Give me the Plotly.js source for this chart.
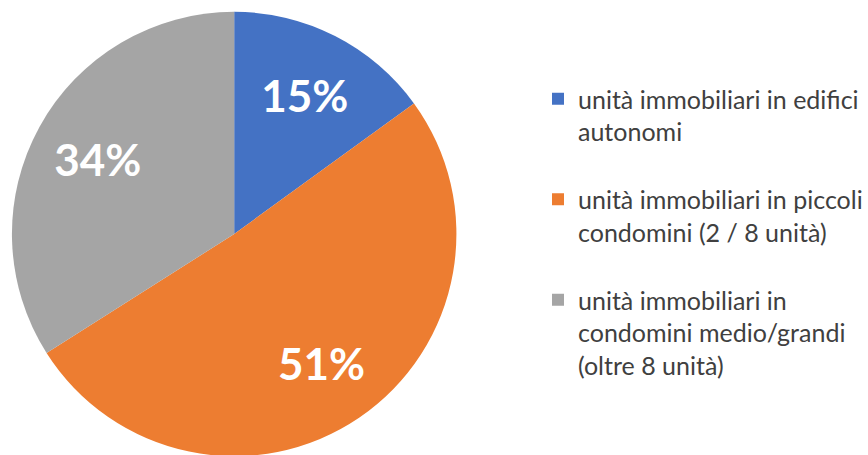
<!DOCTYPE html>
<html>
<head>
<meta charset="utf-8">
<script src="https://cdn.plot.ly/plotly-3.0.1.min.js"></script>
<style>
html,body{margin:0;padding:0;overflow:hidden;background:#fff;width:868px;height:455px;}
#chart{width:868px;height:460px;}
</style>
</head>
<body>
<div id="chart"></div>
<script>
// Data
const categoryLines = [
  ["unità immobiliari in edifici", "autonomi"],
  ["unità immobiliari in piccoli", "condomini (2 / 8 unità)"],
  ["unità immobiliari in", "condomini medio/grandi", "(oltre 8 unità)"]
];
const shares = [15, 51, 34];
const colors = ["#4472C4", "#ED7D31", "#A5A5A5"];

// legend labels: wrapped lines plus a spacer line between entries
const legendLabels = categoryLines.map((lines, i) =>
  lines.join("<br>") + (i < categoryLines.length - 1 ? "<br> " : "")
);

const pieDomain = {x: [12/868, 458/868], y: [0, 1]};

const basePie = {
  type: "pie",
  labels: legendLabels,
  values: shares,
  sort: false,
  direction: "clockwise",
  rotation: 0,
  domain: pieDomain,
  marker: {colors: colors, line: {width: 0}},
  textinfo: "none",
  hoverinfo: "skip",
  showlegend: true
};

// transparent ring carrying the percentage labels (places them at ~0.7 R)
const labelPie = {
  type: "pie",
  labels: legendLabels,
  values: shares,
  sort: false,
  direction: "clockwise",
  rotation: 0,
  hole: 0.4,
  domain: pieDomain,
  marker: {colors: ["rgba(0,0,0,0)","rgba(0,0,0,0)","rgba(0,0,0,0)"], line: {width: 0}},
  textinfo: "percent",
  textposition: "inside",
  insidetextorientation: "horizontal",
  texttemplate: "%{percent:.0%}",
  textfont: {family: "Lato, 'Open Sans', sans-serif", size: 44, color: "#ffffff", weight: "bold"},
  hoverinfo: "skip",
  showlegend: false
};

const layout = {
  width: 868,
  height: 460,
  margin: {l: 0, r: 0, t: 11, b: 3, pad: 0},
  paper_bgcolor: "#ffffff",
  plot_bgcolor: "#ffffff",
  showlegend: true,
  legend: {
    x: 540/868,
    xanchor: "left",
    y: 1 - (76 - 11) / 446,
    yanchor: "top",
    valign: "top",
    font: {family: "Lato, 'Open Sans', sans-serif", size: 25, color: "#404040"},
    bgcolor: "rgba(0,0,0,0)",
    borderwidth: 0,
    traceorder: "normal",
    itemclick: false,
    itemdoubleclick: false
  }
};

Plotly.newPlot("chart", [basePie, labelPie], layout, {displayModeBar: false, staticPlot: true});
</script>
</body>
</html>
